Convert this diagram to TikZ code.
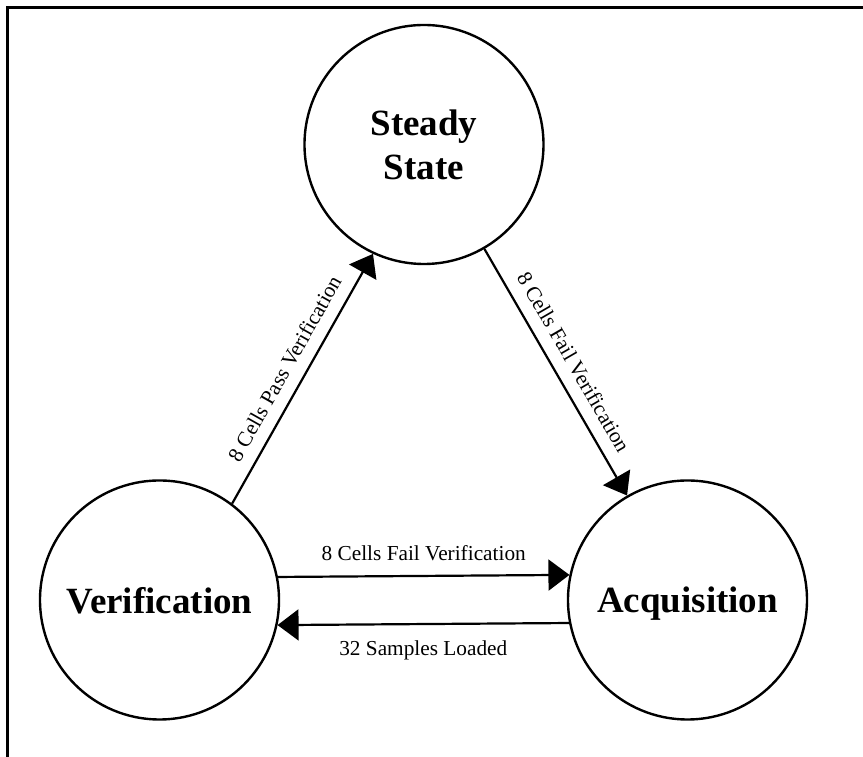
\documentclass[tikz,border=0pt]{standalone}
\usepackage{fontspec}
\setmainfont{Liberation Serif}
\usetikzlibrary{arrows.meta}
\begin{document}
\begin{tikzpicture}[x=1pt,y=1pt,
  state/.style={circle, draw, line width=2.4pt, minimum size=239pt, inner sep=0pt, text depth=0pt, font=\fontsize{37}{44.6}\selectfont\bfseries, align=center},
  edge/.style={line width=2.2pt, -{Triangle[length=21pt,width=31pt]}},
  lbl/.style={font=\fontsize{21.3}{25}\selectfont, inner sep=0pt}
]
\useasboundingbox (0,0) rectangle (863,757);
\clip (0,0) rectangle (863,757);
\draw[line width=3pt] (7,-5) -- (7,749.5) -- (870,749.5);
\node[state] (ss) at (424,612.5) {Steady\\State};
\node[state] (ver) at (159.5,157) {Verification};
\node[state] (acq) at (687.5,157) {Acquisition};
\draw[edge] (ver.53.5) -- node[lbl, sloped, above=12pt] {8 Cells Pass Verification} (ss.245.7);
\draw[edge] (ss) -- node[lbl, sloped, above=12pt] {8 Cells Fail Verification} (acq);
\draw[edge] (ver.11.5) -- node[lbl, above=14pt] {8 Cells Fail Verification} (acq.168.5);
\draw[edge] (acq.191.5) -- node[lbl, anchor=base, yshift=-31pt] {32 Samples Loaded} (ver.348.5);
\end{tikzpicture}
\end{document}
